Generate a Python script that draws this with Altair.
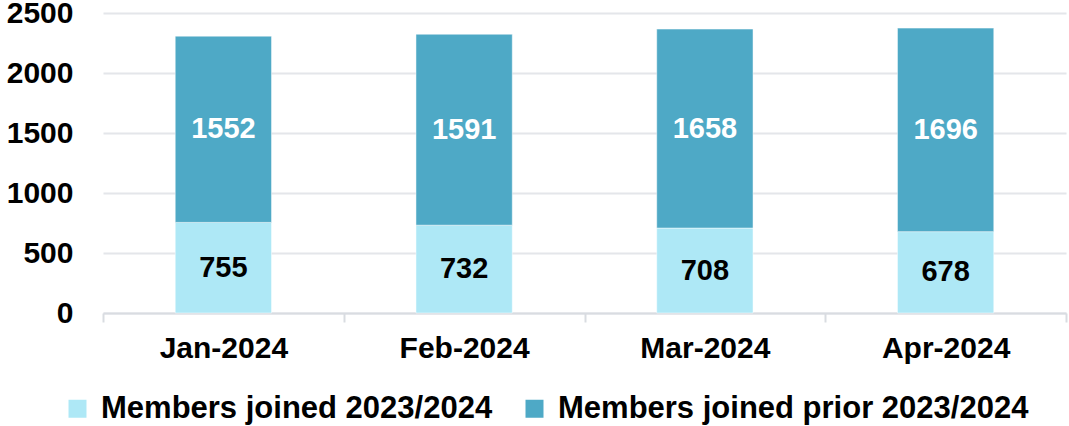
import altair as alt
import pandas as pd

months = ["Jan-2024", "Feb-2024", "Mar-2024", "Apr-2024"]
joined_new = [755, 732, 708, 678]
joined_prior = [1552, 1591, 1658, 1696]
series = ["Members joined 2023/2024", "Members joined prior 2023/2024"]
colors = ["#AEE8F6", "#4EA9C6"]
label_colors = ["#000000", "#FFFFFF"]
y_ticks = [0, 500, 1000, 1500, 2000, 2500]

rows = []
for i, m in enumerate(months):
    rows.append({"month": m, "series": series[0], "value": joined_new[i], "order": 0})
    rows.append({"month": m, "series": series[1], "value": joined_prior[i], "order": 1})
df = pd.DataFrame(rows)

FONT = "Liberation Sans"

x_enc = alt.X(
    "month:N",
    sort=months,
    title=None,
    scale=alt.Scale(paddingInner=0, paddingOuter=0),
    axis=alt.Axis(
        labelAngle=0,
        labelFont=FONT,
        labelFontSize=30,
        labelFontWeight="bold",
        labelColor="#000000",
        labelPadding=11,
        domainColor="#D9DCE1",
        domainWidth=2,
        tickColor="#D9DCE1",
        tickWidth=2,
        tickSize=9,
        tickBand="extent",
        grid=False,
    ),
)

base = alt.Chart(df).transform_stack(
    stack="value", groupby=["month"], sort=[alt.SortField("order")], as_=["y0", "y1"]
).transform_calculate(mid="(datum.y0 + datum.y1) / 2")

bars = base.mark_bar(
    width=alt.RelativeBandSize(0.4), stroke="white", strokeWidth=0.6, strokeOpacity=0.8
).encode(
    x=x_enc,
    y=alt.Y(
        "y0:Q",
        title=None,
        scale=alt.Scale(domain=[0, 2500], nice=False),
        axis=alt.Axis(
            values=y_ticks,
            format="d",
            labelFont=FONT,
            labelFontSize=30,
            labelFontWeight="bold",
            labelColor="#000000",
            labelPadding=30,
            ticks=False,
            domain=False,
            gridColor="#E4E6EA",
            gridWidth=2,
        ),
    ),
    y2="y1:Q",
    color=alt.Color(
        "series:N",
        scale=alt.Scale(domain=series, range=colors),
        legend=alt.Legend(
            title=None,
            orient="none",
            direction="horizontal",
            legendX=-41,
            legendY=380,
            symbolType="square",
            symbolSize=324,
            symbolStrokeWidth=0,
            labelFont=FONT,
            labelFontSize=31,
            labelFontWeight="bold",
            labelColor="#000000",
            labelOffset=8,
            labelLimit=0,
            columnPadding=26,
        ),
    ),
)

labels = base.mark_text(
    font=FONT, fontSize=29, fontWeight="bold", baseline="middle", align="center"
).encode(
    x=alt.X("month:N", sort=months),
    y=alt.Y("mid:Q"),
    text=alt.Text("value:Q"),
    color=alt.Color(
        "series:N",
        scale=alt.Scale(domain=series, range=label_colors),
        legend=None,
    ),
)

chart = (
    alt.layer(bars, labels)
    .resolve_scale(color="independent")
    .properties(
        width=963,
        height=300,
        padding={"left": 103, "top": 13, "right": 3, "bottom": 113},
        autosize=alt.AutoSizeParams(type="none"),
    )
    .configure_view(stroke=None)
)

chart.save("out.html", embed_options={"renderer": "svg", "actions": False})
